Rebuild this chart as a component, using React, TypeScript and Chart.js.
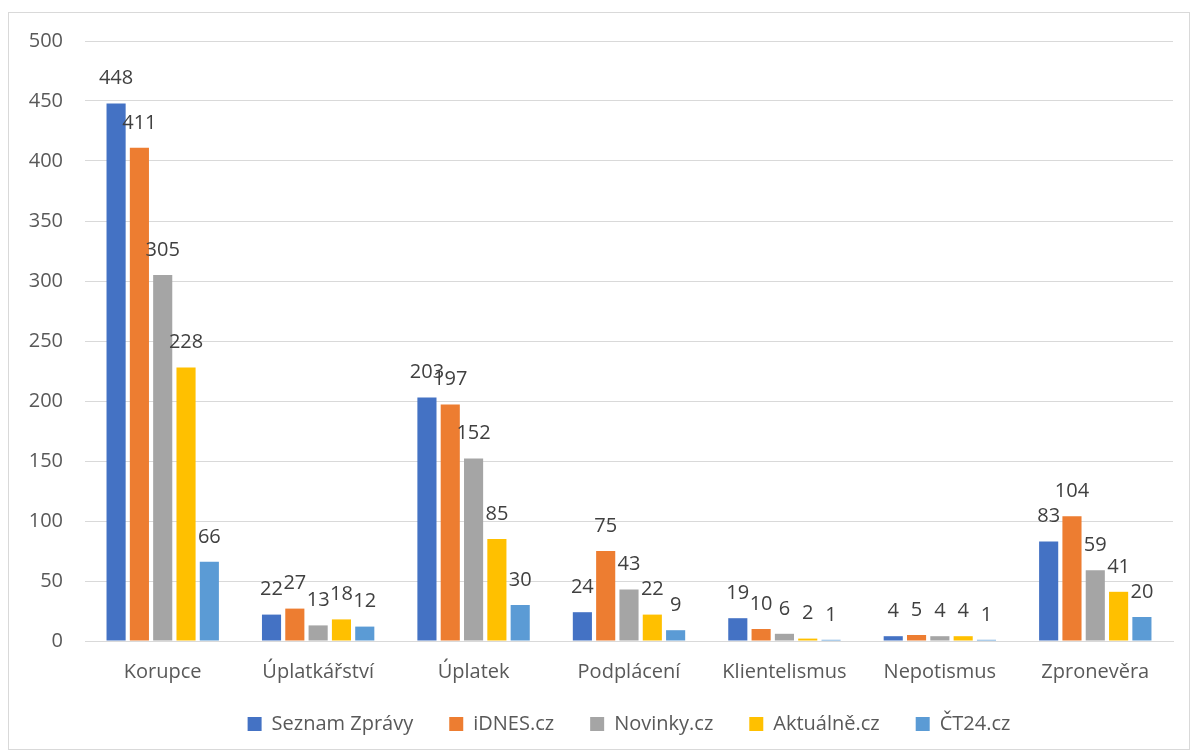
import React, { useEffect, useRef } from "react";
import { Chart, registerables } from "chart.js";

Chart.register(...registerables);

const categories = ["Korupce", "Úplatkářství", "Úplatek", "Podplácení", "Klientelismus", "Nepotismus", "Zpronevěra"];
const seriesNames = ["Seznam Zprávy", "iDNES.cz", "Novinky.cz", "Aktuálně.cz", "ČT24.cz"];
const seznam = [448, 22, 203, 24, 19, 4, 83];
const idnes = [411, 27, 197, 75, 10, 5, 104];
const novinky = [305, 13, 152, 43, 6, 4, 59];
const aktualne = [228, 18, 85, 22, 2, 4, 41];
const ct24 = [66, 12, 30, 9, 1, 1, 20];
const colors = ["#4472C4", "#ED7D31", "#A5A5A5", "#FFC000", "#5B9BD5"];

const FONT = "'Open Sans', 'Noto Sans', sans-serif";

const labelPlugin = {
  id: "barLabels",
  afterDatasetsDraw(chart: any) {
    const ctx = chart.ctx;
    ctx.save();
    ctx.font = `20px ${FONT}`;
    ctx.fillStyle = "#404040";
    ctx.textAlign = "center";
    ctx.textBaseline = "middle";
    chart.data.datasets.forEach((ds: any, di: number) => {
      const meta = chart.getDatasetMeta(di);
      meta.data.forEach((bar: any, i: number) => {
        ctx.fillText(String(ds.data[i]), bar.x, bar.y - 25);
      });
    });
    // category labels under the x axis
    const xs = chart.scales.x;
    ctx.fillStyle = "#595959";
    chart.data.labels.forEach((lab: string, i: number) => {
      ctx.fillText(lab, xs.getPixelForValue(i), chart.chartArea.bottom + 31);
    });
    ctx.restore();
  },
};

export default function App() {
  const ref = useRef<HTMLCanvasElement>(null);
  useEffect(() => {
    const datasets = [seznam, idnes, novinky, aktualne, ct24].map((d, i) => ({
      label: seriesNames[i],
      data: d,
      backgroundColor: colors[i],
      categoryPercentage: 0.75,
      barPercentage: 0.82,
    }));
    const chart = new Chart(ref.current!, {
      type: "bar",
      data: { labels: categories, datasets },
      plugins: [labelPlugin],
      options: {
        animation: false,
        responsive: false,
        maintainAspectRatio: false,
        layout: { padding: { left: 0, top: 28, right: 16, bottom: 5 } },
        plugins: {
          tooltip: { enabled: false },
          legend: {
            position: "bottom",
            fullSize: false,
            labels: {
              boxWidth: 14,
              boxHeight: 14,
              padding: 36,
              color: "#595959",
              font: { family: FONT, size: 20 },
            },
          },
        },
        scales: {
          x: {
            grid: { display: false, drawTicks: false },
            border: { color: "#d9d9d9", width: 1 },
            ticks: { display: false },
            afterFit(scale: any) {
              scale.height = 37;
            },
          },
          y: {
            min: 0,
            max: 500,
            grid: { color: "#d9d9d9", drawTicks: false },
            border: { display: false },
            ticks: { stepSize: 50, color: "#595959", font: { family: FONT, size: 20 }, padding: 22 },
            afterFit(scale: any) {
              scale.width = 76;
              scale.paddingTop = 0;
            },
          },
        },
      },
    } as any);
    return () => chart.destroy();
  }, []);
  return (
    <div
      style={{
        position: "absolute",
        left: 8,
        top: 12,
        width: 1180,
        height: 736,
        border: "1px solid #d9d9d9",
        background: "#fff",
      }}
    >
      <canvas ref={ref} width={1180} height={736} style={{ display: "block" }} />
    </div>
  );
}
